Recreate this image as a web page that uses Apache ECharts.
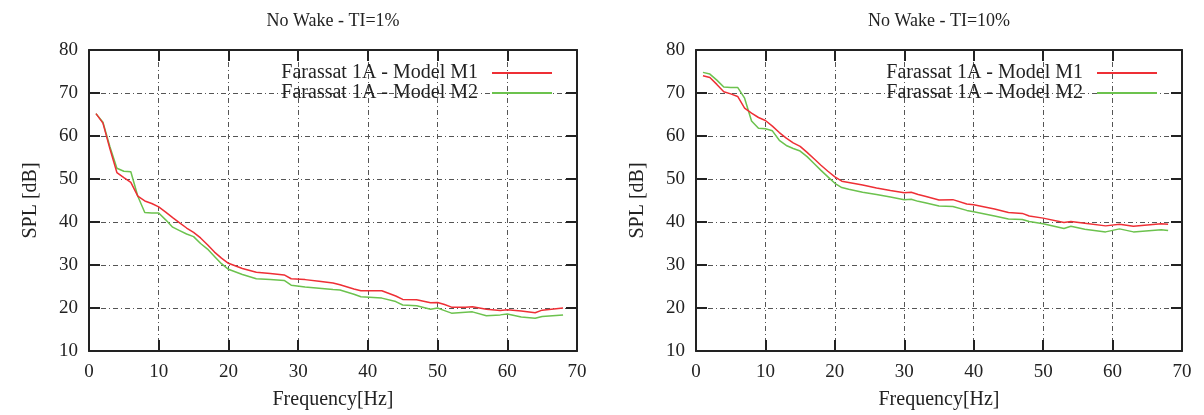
<!DOCTYPE html>
<html>
<head>
<meta charset="utf-8">
<script src="https://cdn.jsdelivr.net/npm/echarts@6/dist/echarts.min.js"></script>
<style>
  html, body { margin: 0; padding: 0; background: #fff; }
  #main { width: 1204px; height: 415px; }
</style>
</head>
<body>
<div id="main"></div>
<script>
// 左图 TI=1%
var freq_ti1 = [1, 2, 3, 4, 5, 6, 7, 8, 9, 10, 11, 12, 13, 14, 15, 16, 17, 18, 19, 20, 22, 24, 26, 28, 29, 31, 33, 35, 36, 38, 39, 42, 44, 45, 47, 49, 50, 51, 52, 54, 55, 57, 59, 60, 62, 64, 65, 68];
var m1_ti1 = [65.2, 63.0, 57.0, 51.5, 50.3, 49.2, 46.0, 44.9, 44.3, 43.5, 42.3, 41.0, 39.8, 38.6, 37.6, 36.3, 34.7, 33.0, 31.6, 30.4, 29.2, 28.3, 28.0, 27.7, 26.8, 26.6, 26.2, 25.8, 25.4, 24.4, 24.0, 24.0, 22.8, 22.0, 21.9, 21.2, 21.3, 20.8, 20.2, 20.2, 20.3, 19.7, 19.4, 19.6, 19.3, 18.9, 19.5, 20.0];
var m2_ti1 = [65.2, 63.2, 57.5, 52.5, 51.8, 51.7, 46.0, 42.2, 42.1, 42.1, 40.5, 38.8, 38.0, 37.2, 36.6, 35.0, 33.7, 32.0, 30.3, 29.0, 27.8, 26.8, 26.6, 26.4, 25.3, 24.9, 24.6, 24.3, 24.2, 23.2, 22.6, 22.3, 21.5, 20.7, 20.5, 19.7, 20.0, 19.4, 18.8, 19.0, 19.1, 18.2, 18.4, 18.6, 17.9, 17.6, 18.0, 18.4];

// 右图 TI=10%
var freq_ti10 = [1, 2, 3, 4, 5, 6, 7, 8, 9, 10, 11, 12, 13, 14, 15, 16, 17, 18, 19, 20, 21, 22, 24, 26, 28, 30, 31, 32, 33, 35, 37, 39, 40, 43, 45, 47, 48, 50, 53, 54, 56, 59, 61, 63, 67, 68];
var m1_ti10 = [74.0, 73.6, 72.0, 70.3, 69.8, 69.2, 66.5, 65.3, 64.3, 63.6, 62.3, 60.8, 59.5, 58.4, 57.6, 56.2, 54.7, 53.2, 51.8, 50.5, 49.5, 49.2, 48.6, 47.9, 47.3, 46.8, 46.9, 46.4, 46.0, 45.1, 45.2, 44.2, 44.0, 43.0, 42.2, 42.0, 41.4, 40.9, 39.9, 40.1, 39.7, 39.1, 39.5, 39.0, 39.6, 39.5];
var m2_ti10 = [74.8, 74.4, 73.0, 71.4, 71.3, 71.3, 68.8, 63.5, 61.8, 61.7, 61.2, 59.0, 57.8, 57.1, 56.5, 55.2, 53.6, 52.0, 50.5, 49.0, 48.0, 47.6, 46.9, 46.4, 45.8, 45.2, 45.3, 44.8, 44.5, 43.7, 43.6, 42.7, 42.4, 41.4, 40.7, 40.6, 40.1, 39.6, 38.5, 39.0, 38.3, 37.7, 38.4, 37.7, 38.2, 38.0];

var titles = ['No Wake - TI=1%', 'No Wake - TI=10%'];
var legend_names = ['Farassat 1A - Model M1', 'Farassat 1A - Model M2'];
var colors = ['#ee2f35', '#6cc24e'];

var font = '"Liberation Serif", "DejaVu Serif", serif';

function pairs(xs, ys) {
  return xs.map(function(x, i) { return [x, ys[i]]; });
}

var grids = [
  { left: 89, width: 488, top: 50, height: 301 },
  { left: 696, width: 486, top: 50, height: 301 }
];

var split = { show: true, lineStyle: { color: '#555', type: [5, 3, 1, 3], width: 1 } };
var frame = { show: true, onZero: false, lineStyle: { color: '#222', width: 2 } };
var ticks = { show: true, inside: true, length: 11, lineStyle: { color: '#222', width: 2 } };

var xAxis = [], yAxis = [], series = [], legend = [], title = [];
grids.forEach(function(g, k) {
  title.push({
    text: titles[k], left: g.left + g.width / 2 - 5, top: 7, textAlign: 'center',
    textStyle: { fontFamily: font, fontSize: 18, fontWeight: 'normal', color: '#222' }
  });
  // 下 / 左 主坐标轴, 上 / 右 只画框和刻度
  xAxis.push({
    type: 'value', gridIndex: k, min: 0, max: 70, interval: 10,
    name: 'Frequency[Hz]', nameLocation: 'middle', nameGap: 39,
    nameTextStyle: { fontFamily: font, fontSize: 20, color: '#222' },
    axisLine: frame, axisTick: ticks,
    axisLabel: { fontFamily: font, fontSize: 19, color: '#222', margin: 12 },
    splitLine: split
  }, {
    type: 'value', gridIndex: k, min: 0, max: 70, interval: 10, position: 'top',
    axisLine: frame, axisTick: ticks,
    axisLabel: { show: false }, splitLine: { show: false }
  });
  yAxis.push({
    type: 'value', gridIndex: k, min: 10, max: 80, interval: 10,
    name: 'SPL [dB]', nameLocation: 'middle', nameGap: 48,
    nameTextStyle: { fontFamily: font, fontSize: 20, color: '#222' },
    axisLine: frame, axisTick: ticks,
    axisLabel: { fontFamily: font, fontSize: 19, color: '#222', margin: 11 },
    splitLine: split
  }, {
    type: 'value', gridIndex: k, min: 10, max: 80, interval: 10, position: 'right',
    axisLine: frame, axisTick: ticks,
    axisLabel: { show: false }, splitLine: { show: false }
  });
  legend.push({
    data: legend_names, orient: 'vertical', align: 'right',
    right: 1204 - (g.left + g.width - 19), top: 58,
    itemWidth: 60, itemHeight: 14, itemGap: 0,
    itemStyle: { opacity: 0 },
    textStyle: { fontFamily: font, fontSize: 20, color: '#222', padding: [0, 9, 0, 0] },
    selectedMode: false
  });
  var ys = k === 0 ? [m1_ti1, m2_ti1] : [m1_ti10, m2_ti10];
  var xs = k === 0 ? freq_ti1 : freq_ti10;
  ys.forEach(function(y, i) {
    series.push({
      name: legend_names[i], type: 'line', xAxisIndex: 2 * k, yAxisIndex: 2 * k,
      symbol: 'none', data: pairs(xs, y),
      lineStyle: { color: colors[i], width: 1.5 },
      itemStyle: { color: colors[i] },
      z: 3 - i
    });
  });
});

var ec = echarts.init(document.getElementById('main'));
ec.setOption({
  animation: false,
  color: colors,
  title: title,
  grid: grids,
  legend: legend,
  xAxis: xAxis,
  yAxis: yAxis,
  series: series
});
</script>
</body>
</html>
